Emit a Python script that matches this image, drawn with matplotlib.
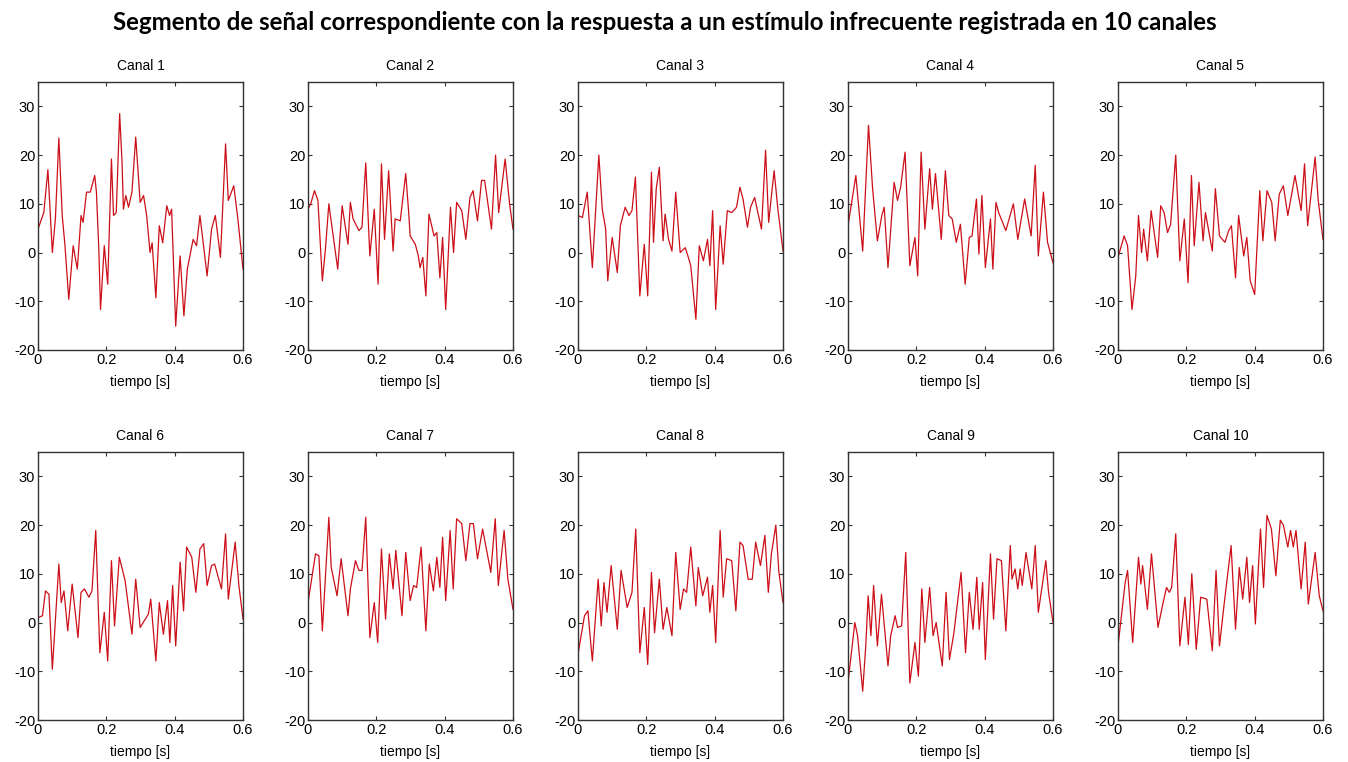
import matplotlib.pyplot as plt

plt.rcParams['axes.unicode_minus'] = False

t1 = [0.000, 0.017, 0.029, 0.042, 0.051, 0.061, 0.071, 0.079, 0.090, 0.103, 0.115, 0.126, 0.132, 0.142, 0.153,
      0.166, 0.171, 0.178, 0.183, 0.194, 0.204, 0.215, 0.221, 0.229, 0.239, 0.246, 0.250, 0.257, 0.265, 0.275,
      0.286, 0.299, 0.309, 0.318, 0.328, 0.334, 0.345, 0.355, 0.365, 0.377, 0.385, 0.391, 0.403, 0.416, 0.427,
      0.437, 0.454, 0.464, 0.474, 0.495, 0.508, 0.519, 0.534, 0.549, 0.557, 0.573, 0.585, 0.600]
v1 = [4.8, 8.2, 17.0, 0.0, 7.0, 23.5, 7.5, 1.4, -9.6, 1.4, -3.4, 7.6, 6.2, 12.4, 12.4,
      15.8, 12.4, 0.7, -11.7, 1.4, -6.5, 19.2, 7.6, 8.2, 28.5, 18.5, 8.9, 11.7, 9.3, 12.4,
      23.7, 10.3, 11.7, 7.6, 0.0, 2.0, -9.3, 5.5, 2.0, 9.6, 7.6, 8.9, -15.1, -0.7, -13.0,
      -3.4, 2.7, 1.4, 7.6, -4.8, 4.8, 7.6, -1.0, 22.3, 10.7, 13.7, 6.9, -3.4]

t2 = [0.000, 0.008, 0.019, 0.029, 0.042, 0.051, 0.061, 0.071, 0.087, 0.100, 0.117, 0.124, 0.132, 0.149, 0.158,
      0.169, 0.181, 0.194, 0.205, 0.215, 0.224, 0.236, 0.249, 0.255, 0.270, 0.286, 0.294, 0.299, 0.314, 0.323,
      0.328, 0.336, 0.345, 0.354, 0.369, 0.377, 0.386, 0.394, 0.403, 0.417, 0.426, 0.435, 0.450, 0.462, 0.474,
      0.483, 0.496, 0.508, 0.517, 0.537, 0.549, 0.558, 0.577, 0.590, 0.600]
v2 = [8.9, 10.0, 12.7, 10.7, -5.8, 0.7, 10.0, 4.8, -3.4, 9.6, 1.7, 10.3, 6.9, 4.5, 5.2,
      18.4, -0.7, 8.9, -6.5, 18.2, 2.7, 16.8, 0.3, 6.9, 6.5, 16.2, 8.9, 3.4, 1.7, -0.7,
      -3.1, -1.0, -8.9, 7.9, 3.4, 4.1, -5.2, 3.1, -11.7, 9.3, 0.0, 10.3, 8.6, 2.7, 11.3,
      12.7, 6.5, 14.8, 14.8, 4.8, 20.0, 8.2, 19.2, 10.0, 4.8]

t3 = [0.000, 0.013, 0.027, 0.042, 0.061, 0.071, 0.081, 0.087, 0.100, 0.115, 0.124, 0.138, 0.149, 0.158, 0.168,
      0.181, 0.194, 0.204, 0.215, 0.221, 0.229, 0.238, 0.249, 0.255, 0.265, 0.275, 0.286, 0.299, 0.314, 0.323,
      0.330, 0.345, 0.355, 0.367, 0.379, 0.386, 0.394, 0.403, 0.416, 0.425, 0.437, 0.450, 0.464, 0.474, 0.483,
      0.496, 0.505, 0.517, 0.537, 0.549, 0.558, 0.574, 0.585, 0.600]
v3 = [7.6, 7.2, 12.4, -3.1, 20.0, 8.9, 4.8, -5.8, 3.1, -4.1, 5.5, 9.3, 7.6, 8.6, 15.5,
      -8.9, 1.7, -8.9, 16.5, 2.1, 13.1, 17.5, 2.4, 7.9, 2.7, 0.3, 12.4, 0.0, 1.0, -1.0,
      -2.7, -13.7, 1.4, -1.7, 2.7, -2.7, 8.6, -11.7, 5.5, -2.4, 8.6, 8.2, 9.3, 13.4, 11.0,
      5.2, 9.3, 11.3, 4.8, 21.0, 6.2, 16.8, 8.9, 0.3]

t4 = [0.000, 0.023, 0.043, 0.060, 0.072, 0.086, 0.099, 0.106, 0.117, 0.135, 0.145, 0.154, 0.167, 0.181, 0.196,
      0.204, 0.214, 0.225, 0.239, 0.247, 0.256, 0.273, 0.285, 0.295, 0.305, 0.317, 0.329, 0.343, 0.355, 0.363,
      0.376, 0.383, 0.392, 0.402, 0.417, 0.424, 0.433, 0.441, 0.462, 0.484, 0.497, 0.517, 0.536, 0.548, 0.557,
      0.572, 0.584, 0.600]
v4 = [5.5, 15.8, 0.3, 26.1, 13.1, 2.4, 7.6, 9.3, -3.1, 14.4, 10.7, 13.4, 20.6, -2.7, 3.1,
      -4.8, 20.6, 4.8, 17.2, 8.9, 16.2, 2.7, 16.8, 7.6, 6.9, 2.1, 5.8, -6.5, 3.1, 3.4,
      11.0, -0.3, 11.7, -3.1, 6.9, -3.4, 10.3, 8.2, 4.5, 10.0, 2.7, 11.0, 3.4, 17.9, -0.7,
      12.4, 2.1, -2.1]

t5 = [0.000, 0.018, 0.028, 0.041, 0.052, 0.060, 0.069, 0.075, 0.086, 0.097, 0.116, 0.125, 0.135, 0.145, 0.154,
      0.169, 0.181, 0.194, 0.205, 0.215, 0.223, 0.237, 0.249, 0.256, 0.276, 0.285, 0.297, 0.313, 0.324, 0.332,
      0.344, 0.353, 0.368, 0.377, 0.387, 0.400, 0.415, 0.424, 0.436, 0.450, 0.460, 0.472, 0.484, 0.497, 0.518,
      0.536, 0.546, 0.555, 0.577, 0.586, 0.600]
v5 = [-1.0, 3.4, 1.4, -11.7, -4.8, 7.6, 0.0, 4.8, -1.7, 8.6, -1.0, 9.6, 8.2, 4.1, 5.8,
      20.0, -1.7, 6.9, -6.2, 15.8, 1.4, 14.4, 2.4, 8.2, 0.3, 13.1, 3.4, 2.1, 4.5, 5.5,
      -5.2, 7.6, -0.7, 3.1, -5.8, -8.6, 12.7, 2.4, 12.7, 10.3, 2.4, 12.0, 13.7, 7.6, 15.8,
      8.6, 18.2, 5.5, 19.6, 10.7, 2.7]

t6 = [0.000, 0.013, 0.022, 0.032, 0.042, 0.061, 0.068, 0.076, 0.087, 0.100, 0.117, 0.126, 0.136, 0.149, 0.158,
      0.169, 0.181, 0.194, 0.204, 0.215, 0.224, 0.238, 0.255, 0.275, 0.286, 0.299, 0.314, 0.323, 0.330, 0.345,
      0.355, 0.367, 0.379, 0.386, 0.394, 0.403, 0.416, 0.426, 0.435, 0.450, 0.462, 0.474, 0.485, 0.495, 0.508,
      0.517, 0.537, 0.549, 0.557, 0.577, 0.588, 0.600]
v6 = [1.0, 1.4, 6.5, 5.8, -9.6, 12.0, 4.1, 6.5, -1.7, 7.9, -3.1, 6.2, 6.9, 5.2, 6.5,
      18.9, -6.2, 2.1, -7.9, 12.7, -0.7, 13.4, 8.6, -2.4, 8.9, -1.0, 0.7, 1.7, 4.8, -7.9,
      4.1, -2.4, 4.5, -4.1, 7.6, -4.8, 12.4, 2.4, 15.5, 13.4, 6.2, 15.1, 16.2, 7.6, 11.7,
      12.0, 6.9, 18.2, 4.8, 16.5, 7.6, 0.7]

t7 = [0.000, 0.022, 0.032, 0.042, 0.061, 0.068, 0.085, 0.097, 0.117, 0.124, 0.139, 0.149, 0.158, 0.169, 0.181,
      0.194, 0.204, 0.215, 0.227, 0.238, 0.249, 0.257, 0.275, 0.286, 0.299, 0.309, 0.318, 0.331, 0.345, 0.355,
      0.367, 0.377, 0.386, 0.394, 0.403, 0.416, 0.425, 0.435, 0.450, 0.462, 0.474, 0.484, 0.496, 0.511, 0.535,
      0.548, 0.557, 0.574, 0.585, 0.600]
v7 = [4.1, 14.1, 13.7, -1.7, 21.6, 11.3, 5.5, 13.1, 1.4, 6.9, 12.7, 10.7, 10.7, 21.6, -3.1,
      4.1, -4.1, 15.1, 0.7, 14.1, 6.9, 14.8, 1.4, 14.4, 4.5, 7.6, 7.2, 15.5, -1.7, 12.0,
      6.5, 13.4, 7.2, 17.5, 4.5, 18.9, 6.9, 21.3, 20.3, 12.7, 20.3, 20.3, 13.1, 19.2, 10.3,
      21.3, 7.6, 18.9, 8.9, 2.7]

t8 = [0.000, 0.019, 0.029, 0.042, 0.059, 0.068, 0.076, 0.085, 0.097, 0.115, 0.126, 0.144, 0.158, 0.169, 0.181,
      0.194, 0.204, 0.215, 0.224, 0.238, 0.249, 0.260, 0.275, 0.286, 0.299, 0.309, 0.318, 0.330, 0.345, 0.352,
      0.365, 0.379, 0.386, 0.394, 0.403, 0.416, 0.425, 0.435, 0.450, 0.462, 0.474, 0.483, 0.498, 0.510, 0.520,
      0.534, 0.547, 0.557, 0.566, 0.579, 0.588, 0.600]
v8 = [-6.5, 1.4, 2.4, -7.9, 8.9, -0.7, 8.2, 2.1, 11.7, -1.4, 10.7, 3.1, 6.2, 19.2, -6.2,
      3.1, -8.6, 10.3, -2.1, 8.9, -1.4, 3.1, -2.7, 14.4, 2.7, 6.9, 6.2, 15.5, 3.4, 11.3,
      5.5, 9.3, 2.1, 7.6, -4.1, 18.9, 5.2, 13.1, 12.7, 2.4, 16.5, 15.8, 8.9, 8.9, 16.5,
      11.7, 17.9, 6.2, 14.1, 20.0, 10.3, 4.1]

t9 = [0.000, 0.020, 0.028, 0.043, 0.052, 0.059, 0.067, 0.075, 0.086, 0.098, 0.117, 0.125, 0.138, 0.145, 0.157,
      0.169, 0.181, 0.196, 0.206, 0.216, 0.225, 0.239, 0.249, 0.258, 0.276, 0.287, 0.297, 0.310, 0.331, 0.344,
      0.355, 0.366, 0.377, 0.384, 0.394, 0.402, 0.417, 0.426, 0.436, 0.449, 0.462, 0.475, 0.480, 0.489, 0.497,
      0.504, 0.510, 0.521, 0.538, 0.548, 0.557, 0.579, 0.587, 0.600]
v9 = [-12.4, 0.0, -2.7, -14.1, -4.8, 5.5, -2.7, 7.6, -4.8, 5.8, -8.9, -2.7, 1.4, -1.0, -0.7,
      14.4, -12.4, -4.1, -11.0, 6.9, -4.1, 7.2, -2.7, 0.0, -8.9, 6.2, -7.6, -2.1, 10.3, -6.2,
      6.2, -1.4, 9.3, -1.4, 8.2, -7.6, 14.1, 0.7, 13.1, 12.7, -1.7, 15.8, 8.9, 11.0, 6.9,
      11.0, 7.6, 14.4, 6.9, 15.8, 2.1, 12.7, 6.2, 0.0]

t10 = [0.000, 0.021, 0.028, 0.043, 0.060, 0.067, 0.072, 0.086, 0.098, 0.117, 0.130, 0.142, 0.150, 0.157, 0.169,
       0.181, 0.196, 0.206, 0.216, 0.229, 0.242, 0.260, 0.276, 0.287, 0.297, 0.310, 0.331, 0.344, 0.355, 0.365,
       0.377, 0.385, 0.394, 0.402, 0.417, 0.426, 0.436, 0.449, 0.462, 0.475, 0.484, 0.497, 0.505, 0.513, 0.521,
       0.536, 0.548, 0.557, 0.577, 0.589, 0.600]
v10 = [-4.8, 8.2, 10.7, -4.1, 13.4, 7.9, 11.7, 2.7, 14.1, -1.0, 3.4, 7.2, 6.2, 7.2, 18.2,
       -4.8, 5.2, -4.5, 10.0, -5.5, 5.2, 4.8, -5.8, 10.7, -4.8, 3.4, 15.8, -1.4, 11.3, 4.8,
       13.4, 4.1, 11.7, -0.3, 19.2, 7.2, 22.0, 19.2, 9.6, 21.0, 20.0, 15.5, 18.9, 15.5, 18.9,
       6.9, 16.5, 3.8, 14.4, 5.5, 2.4]

tiempos = [t1, t2, t3, t4, t5, t6, t7, t8, t9, t10]
canales = [v1, v2, v3, v4, v5, v6, v7, v8, v9, v10]
titulos = ['Canal %d' % (i + 1) for i in range(10)]

fig = plt.figure(figsize=(13.48, 7.62), dpi=100)
fig.text(0.493, 0.97, 'Segmento de señal correspondiente con la respuesta a un estímulo infrecuente registrada en 10 canales',
         ha='center', va='center', fontsize=17.3, fontweight='bold', family='Lato')

# posiciones de los ejes (2 filas x 5 columnas)
W = 205 / 1348
H = 268 / 762
for i in range(10):
    fila = i // 5
    col = i % 5
    left = (38 + 270 * col) / 1348
    bottom = 1 - (350 + 370 * fila) / 762
    ax = fig.add_axes([left, bottom, W, H])
    ax.plot(tiempos[i], canales[i], color='#cc0f18', linewidth=0.9)
    ax.set_xlim(0, 0.6)
    ax.set_ylim(-20, 35)
    ax.set_xticks([0, 0.2, 0.4, 0.6])
    ax.set_xticklabels(['0', '0.2', '0.4', '0.6'])
    ax.set_yticks([-20, -10, 0, 10, 20, 30])
    ax.tick_params(direction='in', top=True, right=True, length=3, labelsize=10.5, pad=2, color='#333333')
    for lab in ax.get_xticklabels() + ax.get_yticklabels():
        lab.set_family('Liberation Sans')
    for s in ax.spines.values():
        s.set_color('#333333')
        s.set_linewidth(1.0)
    ax.set_title(titulos[i], fontsize=10, family='Liberation Sans', pad=9)
    ax.set_xlabel('tiempo [s]', fontsize=10, family='Liberation Sans', labelpad=6)

plt.savefig('out.png', dpi=100)
